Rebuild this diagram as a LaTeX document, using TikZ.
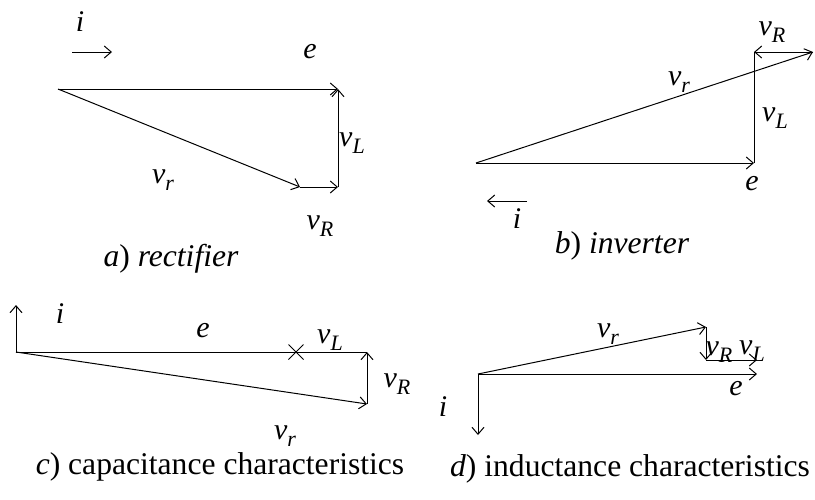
\documentclass[tikz,border=0pt]{standalone}
\usepackage{fontspec}
\setmainfont{Liberation Serif}
\usetikzlibrary{arrows.meta,shapes.misc}

\newcommand{\vsub}[1]{\textit{v}\raisebox{-0.55ex}{\fontsize{11}{12}\selectfont\textit{#1}}}

\begin{document}
\begin{tikzpicture}[
  x=0.5pt, y=-0.5pt,
  font=\fontsize{15}{18}\selectfont,
  vec/.style={
    line width=0.5pt,
    -{Straight Barb[length=3.5pt,width=6pt]}
  },
  plain/.style={line width=0.5pt},
  lbl/.style={inner sep=0pt},
  caption/.style={inner sep=0pt, font=\fontsize{15.8}{18}\selectfont}
]

\useasboundingbox (0,0) rectangle (815,499);

% a) rectifier
\coordinate (aO) at (58,89);
\coordinate (aE) at (338,89);
\coordinate (aR) at (300,187);
\coordinate (aL) at (338,187);
\coordinate (ai1) at (72,52);
\coordinate (ai2) at (112,52);

\draw[vec] (aO) -- (aE);
\draw[vec] (aO) -- (aR);
\draw[vec] (aR) -- (aL);
\draw[vec] (aL) -- (aE);
\draw[vec] (ai1) -- (ai2);

\node[lbl] (ai) at (80,22) {\textit{i}};
\node[lbl] (ae) at (310,52) {\textit{e}};
\node[lbl] (avr) at (163,180) {\vsub{r}};
\node[lbl] (avl) at (352,143) {\vsub{L}};
\node[lbl] (avR) at (320,226) {\vsub{R}};
\node[caption] (acap) at (171,259) {\textit{a}) \textit{rectifier}};

% b) inverter
\coordinate (bO) at (476,163);
\coordinate (bE) at (754,163);
\coordinate (bT) at (754,52);
\coordinate (bR) at (813,52);
\coordinate (bi1) at (527,201);
\coordinate (bi2) at (487,201);

\draw[vec] (bO) -- (bE);
\draw[plain] (bE) -- (bT);
\draw[vec] (bR) -- (bT);
\draw[vec] (bO) -- (bR);
\draw[vec] (bi1) -- (bi2);

\node[lbl] (bvR) at (772,32) {\vsub{R}};
\node[lbl] (bvr) at (679,82) {\vsub{r}};
\node[lbl] (bvl) at (775,118) {\vsub{L}};
\node[lbl] (be) at (752,184) {\textit{e}};
\node[lbl] (bi) at (517,219) {\textit{i}};
\node[caption] (bcap) at (622,246) {\textit{b}) \textit{inverter}};

% c) capacitance characteristics
\coordinate (cO) at (16,352);
\coordinate (cE) at (367,352);
\coordinate (cR) at (367,404);
\coordinate (cI) at (16,305);

\draw[plain] (cO) -- (cE);
\node[draw, cross out, line width=0.5pt, minimum size=7pt, inner sep=0pt] (cX) at (296,352) {};
\draw[vec] (cR) -- (cE);
\draw[vec] (cO) -- (cR);
\draw[vec] (cO) -- (cI);

\node[lbl] (ci) at (60,314) {\textit{i}};
\node[lbl] (ce) at (203,331) {\textit{e}};
\node[lbl] (cvl) at (330,340) {\vsub{L}};
\node[lbl] (cvR) at (397,384) {\vsub{R}};
\node[lbl] (cvr) at (285,436) {\vsub{r}};
\node[caption] (ccap) at (220,467) {\textit{c}) capacitance characteristics};

% d) inductance characteristics
\coordinate (dO) at (478,374);
\coordinate (dE) at (757,374);
\coordinate (dI) at (478,435);
\coordinate (dT) at (706,327);
\coordinate (dB) at (706,360);
\coordinate (dL) at (757,360);

\draw[vec] (dO) -- (dE);
\draw[vec] (dO) -- (dI);
\draw[vec] (dO) -- (dT);
\draw[vec] (dT) -- (dB);
\draw[vec] (dB) -- (dL);

\node[lbl] (dvr) at (608,334) {\vsub{r}};
\node[lbl] (dvR) at (719,352) {\vsub{R}};
\node[lbl] (dvl) at (752,351) {\vsub{L}};
\node[lbl] (de) at (736,389) {\textit{e}};
\node[lbl] (di) at (443,407) {\textit{i}};
\node[caption] (dcap) at (630,469) {\textit{d}) inductance characteristics};

\end{tikzpicture}
\end{document}
